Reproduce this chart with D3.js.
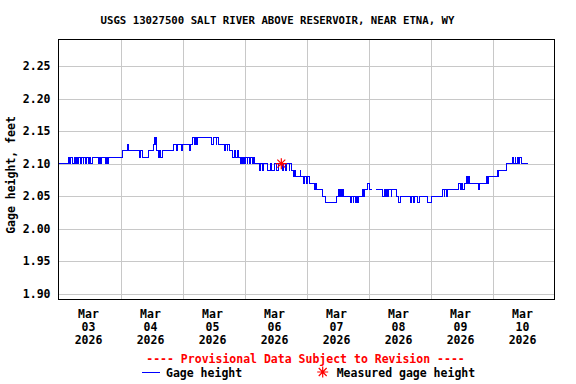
<!DOCTYPE html>
<html>
<head>
<meta charset="utf-8">
<script src="https://cdn.jsdelivr.net/npm/d3@7"></script>
<style>
  html, body { margin: 0; padding: 0; background: #fff; }
  svg { display: block; }
  text { font-family: "DejaVu Sans Mono", "Liberation Mono", monospace; font-weight: bold; }
</style>
</head>
<body>
<svg id="chart" width="576" height="384"></svg>
<script>
// ---------- DATA ----------
const title = "USGS 13027500 SALT RIVER ABOVE RESERVOIR, NEAR ETNA, WY";
const yLabel = "Gage height, feet";
const startDay = [2026, 2, 3];           // Mar 03 2026 (UTC)
const dayCount = 8;
// step-change times (hours after Mar 03 00:00) and gage height (ft) from that time on
const changeHours = [
  0, 3.75, 4.25, 4.75, 5.25, 6.0, 6.5, 7.0, 7.5, 7.75, 8.5, 8.75, 9.5, 9.75, 10.5, 11.0, 11.5, 12.0, 12.5, 13.0,
  15.5, 16.0, 16.25, 16.75, 18.25, 18.75, 19.0, 19.5, 24.75, 26.75, 27.0, 31.25, 31.75, 32.5, 34.75,
  36.75, 37.0, 37.5, 37.75, 38.0, 38.75, 39.0, 39.5, 40.25, 44.5, 45.5, 46.0, 47.75, 48.0, 50.75, 51.0,
  52.0, 52.5, 53.0, 53.25, 53.75, 59.25, 60.0, 61.0, 61.25, 61.75, 64.25, 64.75, 65.25, 65.5, 66.0,
  67.5, 68.0, 68.5, 69.25, 69.5, 70.5, 71.0, 71.25, 71.75, 72.0, 72.5, 73.0, 73.25, 73.75, 74.25, 75.0,
  75.5, 76.0, 77.75, 78.25, 79.0, 79.25, 80.75, 82.25, 82.5, 83.75, 84.5, 85.0, 86.75, 87.25, 88.0,
  88.25, 89.25, 89.5, 90.0, 91.0, 91.5, 91.75, 93.5, 93.75, 95.0, 95.25, 96.0, 96.25, 97.0, 99.25,
  99.5, 100.0, 102.25, 103.5, 107.75, 108.25, 108.75, 109.0, 109.5, 109.75, 110.5, 113.0, 113.25,
  114.0, 114.25, 115.0, 115.25, 115.75, 116.25, 117.5, 118.25, 118.5, 119.5, 120.5, 121.5, 121.75,
  123.0, 125.5, 126.0, 126.5, 127.0, 127.5, 127.75, 128.75, 129.0, 131.0, 131.5, 132.25, 136.25,
  136.5, 137.25, 137.75, 139.0, 139.75, 143.0, 144.5, 148.75, 149.25, 149.5, 150.0, 150.5, 155.0,
  155.5, 156.0, 156.5, 157.0, 158.0, 158.5, 158.75, 159.25, 162.5, 163.0, 165.5, 166.0, 166.5,
  169.75, 170.0, 170.5, 173.5, 175.75, 176.0, 176.75, 177.0, 177.5, 178.25, 178.5, 179.25, 181.75
];
const gageHeight = [
  2.10, 2.11, 2.10, 2.11, 2.10, 2.11, 2.10, 2.11, 2.10, 2.11, 2.10, 2.11, 2.10, 2.11, 2.10, 2.11, 2.10, 2.11, 2.10, 2.11,
  2.10, 2.11, 2.10, 2.11, 2.10, 2.11, 2.10, 2.11, 2.12, 2.13, 2.12, 2.11, 2.12, 2.11, 2.12,
  2.13, 2.14, 2.13, 2.14, 2.12, 2.11, 2.12, 2.11, 2.12, 2.13, 2.12, 2.13, 2.12, 2.13, 2.12, 2.13,
  2.14, 2.13, 2.14, 2.13, 2.14, 2.13, 2.14, 2.13, 2.14, 2.13, 2.12, 2.13, 2.12, 2.13, 2.12,
  2.11, 2.12, 2.11, 2.12, 2.11, 2.10, 2.11, 2.10, 2.11, 2.10, 2.11, 2.10, 2.11, 2.10, 2.11, 2.10,
  2.11, 2.10, 2.09, 2.10, 2.09, 2.10, 2.09, 2.10, 2.09, 2.10, 2.09, 2.10, 2.09, 2.10, 2.09,
  2.10, 2.09, 2.10, 2.09, 2.08, 2.09, 2.08, 2.09, 2.08, 2.07, 2.08, 2.07, 2.08, 2.07, 2.06,
  2.07, 2.06, 2.05, 2.04, 2.05, 2.06, 2.05, 2.06, 2.05, 2.06, 2.05, 2.04, 2.05,
  2.04, 2.05, 2.04, 2.05, 2.04, 2.05, 2.06, 2.05, 2.06, 2.07, 2.06, 2.06, null,
  2.06, 2.05, 2.06, 2.05, 2.06, 2.05, 2.06, 2.05, 2.06, 2.05, 2.04, 2.05, 2.04,
  2.05, 2.04, 2.05, 2.04, 2.05, 2.04, 2.05, 2.06, 2.05, 2.06, 2.05, 2.06, 2.07,
  2.06, 2.07, 2.06, 2.07, 2.08, 2.07, 2.08, 2.07, 2.06, 2.07, 2.08, 2.07, 2.08,
  2.09, 2.08, 2.09, 2.10, 2.11, 2.10, 2.11, 2.10, 2.11, 2.10, 2.11, 2.10, 2.10
];
const measuredHours = [86.25];
const measuredHeight = [2.10];
const yTicks = [1.90, 1.95, 2.00, 2.05, 2.10, 2.15, 2.20, 2.25];
const monthLabel = "Mar";
const dayLabels = ["03", "04", "05", "06", "07", "08", "09", "10"];
const yearLabel = "2026";
const provisionalText = "---- Provisional Data Subject to Revision ----";
const legendLine = "Gage height";
const legendStar = "Measured gage height";

// ---------- LAYOUT ----------
const svg = d3.select("#chart");
const L = 58.5, R = 554.5, T = 39.5, B = 299.5;
const t0 = Date.UTC(startDay[0], startDay[1], startDay[2]);
const hourMs = 3600 * 1000;
const toDate = h => new Date(t0 + h * hourMs);

const x = d3.scaleUtc().domain([toDate(0), toDate(24 * dayCount)]).range([L, R]);
const y = d3.scaleLinear().domain([1.891, 2.291]).range([B, T]);

// gridlines
const midnights = d3.range(1, dayCount).map(d => toDate(24 * d));
svg.append("g").attr("transform", `translate(0,${B})`)
  .call(d3.axisBottom(x).tickValues(midnights).tickSize(-(B - T)).tickFormat(""))
  .call(g => g.select(".domain").remove())
  .call(g => g.selectAll("line").attr("stroke", "#c8c8c8").attr("shape-rendering", "crispEdges"));
svg.append("g").attr("transform", `translate(${L},0)`)
  .call(d3.axisLeft(y).tickValues(yTicks).tickSize(-(R - L)).tickFormat(""))
  .call(g => g.select(".domain").remove())
  .call(g => g.selectAll("line").attr("stroke", "#c8c8c8").attr("shape-rendering", "crispEdges"));

// data line
const pts = changeHours.map((h, i) => ({ t: toDate(h), v: gageHeight[i] }));
const line = d3.line().defined(d => d.v != null).x(d => x(d.t)).y(d => y(d.v)).curve(d3.curveStepAfter);
svg.append("path").datum(pts)
  .attr("d", line).attr("fill", "none").attr("stroke", "#0000ff").attr("stroke-width", 1)
  .attr("shape-rendering", "crispEdges");

// measured star
const starPath = r => {
  const d = r * 0.72;
  return `M${-r},0L${r},0M0,${-r}L0,${r}M${-d},${-d}L${d},${d}M${-d},${d}L${d},${-d}`;
};
svg.append("g").selectAll("path").data(measuredHours.map((h, i) => ({ t: toDate(h), v: measuredHeight[i] })))
  .join("path")
  .attr("transform", d => `translate(${x(d.t)},${y(d.v)})`)
  .attr("d", starPath(5.5)).attr("stroke", "#ff0000").attr("stroke-width", 1.2).attr("fill", "none");

// frame
svg.append("rect").attr("x", L).attr("y", T).attr("width", R - L).attr("height", B - T)
  .attr("fill", "none").attr("stroke", "#000").attr("stroke-width", 1).attr("shape-rendering", "crispEdges");

// y axis labels
svg.append("g").attr("transform", `translate(${L},0)`)
  .call(d3.axisLeft(y).tickValues(yTicks).tickSize(0).tickPadding(8).tickFormat(d3.format(".2f")))
  .call(g => g.select(".domain").remove())
  .call(g => g.selectAll("text").attr("font-family", "DejaVu Sans Mono").attr("font-weight", "bold")
    .attr("font-size", 11.5).attr("fill", "#000"));

// x axis labels (noon of each day)
const noons = d3.range(0, dayCount).map(d => toDate(24 * d + 12));
const xa = svg.append("g").attr("transform", `translate(0,${B})`)
  .call(d3.axisBottom(x).tickValues(noons).tickSize(0).tickFormat(""))
  .call(g => g.select(".domain").remove());
xa.selectAll(".tick text").each(function (d, i) {
  const t = d3.select(this).attr("y", null).attr("dy", null)
    .attr("font-family", "DejaVu Sans Mono").attr("font-weight", "bold").attr("font-size", 11.5).attr("fill", "#000");
  [monthLabel, dayLabels[i], yearLabel].forEach((s, k) => {
    t.append("tspan").attr("x", -1.5).attr("y", 18.5 + 13 * k).text(s);
  });
});

// title
svg.append("text").attr("x", 277.5).attr("y", 24).attr("text-anchor", "middle")
  .attr("font-size", 10.7).attr("fill", "#000").text(title);

// y label
svg.append("text").attr("transform", "translate(15,175) rotate(-90)").attr("text-anchor", "middle")
  .attr("font-size", 11.5).attr("fill", "#000").text(yLabel);

// legend
svg.append("text").attr("x", 305.5).attr("y", 363).attr("text-anchor", "middle")
  .attr("font-size", 11.5).attr("fill", "#ff0000").text(provisionalText);
svg.append("line").attr("x1", 142).attr("x2", 160).attr("y1", 372.5).attr("y2", 372.5)
  .attr("stroke", "#0000ff").attr("stroke-width", 1);
svg.append("text").attr("x", 166).attr("y", 376.5).attr("font-size", 11.5).attr("fill", "#000").text(legendLine);
svg.append("path").attr("transform", "translate(322.7,372)").attr("d", starPath(5.5))
  .attr("stroke", "#ff0000").attr("stroke-width", 1.2).attr("fill", "none");
svg.append("text").attr("x", 336.7).attr("y", 376.5).attr("font-size", 11.5).attr("fill", "#000").text(legendStar);
</script>
</body>
</html>
